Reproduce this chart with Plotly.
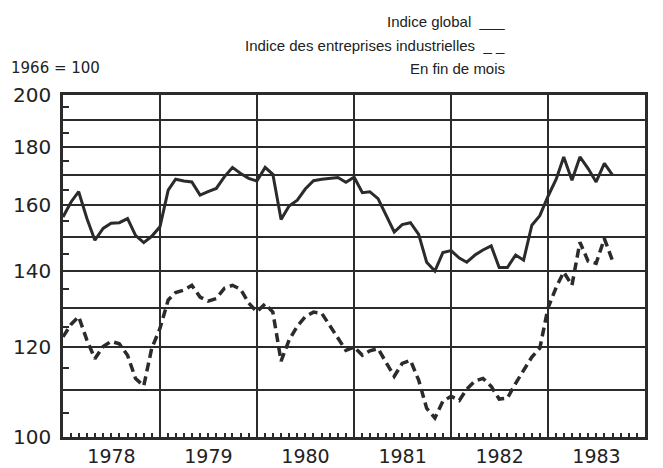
import numpy as np
import pandas as pd
import plotly.graph_objects as go

# Monthly values, end of month, Jan 1978 - Sep 1983 (1966 = 100)
months = pd.date_range("1978-01-01", periods=69, freq="MS")

indice_global = [
    156.2, 161.1, 164.4, 155.7, 149.0, 152.6, 154.2, 154.4, 155.7, 150.5, 148.3, 150.2,
    153.1, 164.9, 168.6, 168.0, 167.7, 163.3, 164.4, 165.5, 169.5, 172.7, 170.6, 168.9,
    168.0, 172.7, 170.3, 155.4, 159.7, 161.6, 165.3, 168.1, 168.6, 169.0, 169.2, 167.6,
    169.3, 164.1, 164.4, 162.1, 156.6, 151.5, 153.8, 154.4, 150.8, 142.5, 140.0, 145.3,
    145.9, 143.7, 142.5, 144.6, 146.1, 147.3, 141.0, 141.0, 144.6, 143.1, 153.6, 156.6,
    162.9, 168.7, 176.4, 168.3, 176.4, 172.3, 167.7, 174.1, 170.0,
]

indice_industrielles = [
    122.5, 125.7, 127.6, 121.7, 117.2, 120.1, 121.4, 120.8, 118.0, 112.6, 110.9, 119.7,
    124.6, 132.0, 134.0, 134.7, 136.0, 132.8, 131.7, 132.4, 135.2, 136.0, 134.9, 131.2,
    128.9, 131.0, 128.8, 116.6, 121.7, 125.2, 127.6, 128.8, 128.5, 125.2, 122.2, 119.2,
    120.0, 118.0, 119.1, 119.6, 116.4, 113.1, 116.1, 116.8, 112.2, 106.0, 103.9, 107.5,
    108.6, 107.7, 110.2, 112.0, 112.6, 110.8, 108.0, 108.2, 111.5, 114.5, 117.6, 119.7,
    129.9, 135.5, 139.7, 136.0, 148.4, 142.8, 142.2, 149.5, 142.9,
]

grid_vals = [100, 110, 120, 130, 140, 150, 160, 170, 180, 190, 200]
grid_text = ["100", "", "120", "", "140", "", "160", "", "180", "", "200"]
minor_vals = [105, 115, 125, 135, 145, 155, 165, 175, 185, 195]

ink = "#2b2b2b"

fig = go.Figure()

fig.add_trace(go.Scatter(
    x=months, y=indice_global, mode="lines",
    line=dict(color=ink, width=3),
    name="Indice global", showlegend=False
))

fig.add_trace(go.Scatter(
    x=months, y=indice_industrielles, mode="lines",
    line=dict(color=ink, width=3.5, dash="9px,5px"),
    name="Indice des entreprises industrielles", showlegend=False
))

fig.update_xaxes(
    type="date",
    range=["1978-01-01", "1984-01-01"],
    tick0="1978-01-01", dtick="M12",
    tickformat="%Y", ticklabelmode="period",
    showgrid=True, gridcolor=ink, gridwidth=1.5,
    showline=True, linecolor=ink, linewidth=2.5, mirror=True,
    ticks="", automargin=False, ticklabelstandoff=0,
    tickfont=dict(family="DejaVu Sans", size=19, color="#222222"),
    minor=dict(dtick="M1", ticks="inside", ticklen=4, tickwidth=1.5,
               tickcolor=ink, showgrid=False),
)

fig.update_yaxes(
    type="log",
    range=[np.log10(100), np.log10(200)],
    tickmode="array", tickvals=grid_vals, ticktext=grid_text,
    showgrid=True, gridcolor=ink, gridwidth=1.5,
    showline=True, linecolor=ink, linewidth=2.5, mirror=True,
    ticks="", automargin=False, ticklabelstandoff=5,
    tickfont=dict(family="DejaVu Sans", size=20, color="#222222"),
    minor=dict(tickmode="array", tickvals=minor_vals, ticks="inside",
               ticklen=6, tickwidth=1.5, tickcolor=ink, showgrid=False),
)

legend_font = dict(family="Liberation Sans", size=15, color="#222222")
fig.add_annotation(text="Indice global&nbsp;&nbsp;___", xref="paper", yref="paper",
                   x=0.763, y=1.2145, xanchor="right", yanchor="middle",
                   showarrow=False, font=legend_font)
fig.add_annotation(text="Indice des entreprises industrielles&nbsp;&nbsp;_&nbsp;_",
                   xref="paper", yref="paper",
                   x=0.763, y=1.146, xanchor="right", yanchor="middle",
                   showarrow=False, font=legend_font)
fig.add_annotation(text="En fin de mois", xref="paper", yref="paper",
                   x=0.763, y=1.078, xanchor="right", yanchor="middle",
                   showarrow=False, font=legend_font)
fig.add_annotation(text="1966 = 100", xref="paper", yref="paper",
                   x=-0.092, y=1.078, xanchor="left", yanchor="middle",
                   showarrow=False, font=dict(family="DejaVu Sans", size=15, color="#222222"))

# page body adds ~8px offset, so the figure is sized to land the plot where the reference has it
fig.update_layout(
    width=655, height=460,
    margin=dict(l=55, r=18, t=87, b=31),
    paper_bgcolor="white", plot_bgcolor="white",
    showlegend=False,
)

fig.write_html("out.html")
